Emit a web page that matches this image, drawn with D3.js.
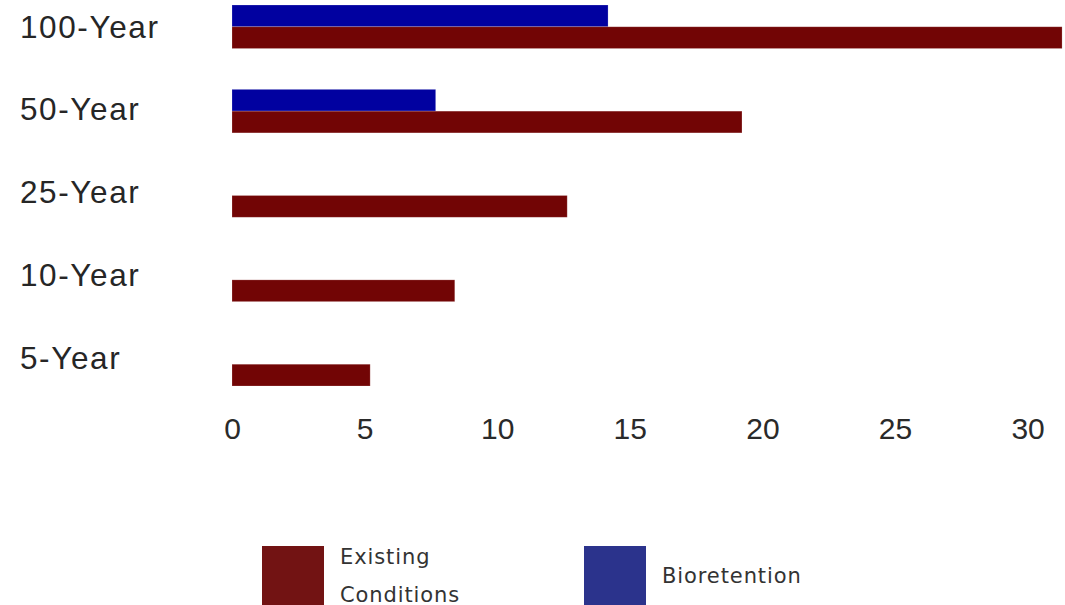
<!DOCTYPE html>
<html>
<head>
<meta charset="utf-8">
<script src="https://cdn.jsdelivr.net/npm/d3@7"></script>
<style>
  html, body { margin: 0; padding: 0; background: #ffffff; }
  svg { display: block; }
</style>
</head>
<body>
<div id="chart"></div>
<script>
// Storm events, top to bottom
const categories = ["100-Year", "50-Year", "25-Year", "10-Year", "5-Year"];
// Series values per storm event (null = not modelled)
const existingConditions = [31.3, 19.23, 12.64, 8.4, 5.21];
const bioretention = [14.18, 7.68, null, null, null];
const seriesNames = ["Existing\nConditions", "Bioretention"];
const xTicks = [0, 5, 10, 15, 20, 25, 30];

const W = 1065, H = 605;
const colors = { existing: "#720505", bio: "#0101a0" };
const legendColors = ["#721313", "#2b338c"];

const svg = d3.select("#chart").append("svg")
  .attr("width", W).attr("height", H);

const x = d3.scaleLinear().domain([0, 30]).range([232, 1027.6]);
const y = d3.scaleBand().domain(categories).range([5, 386])
  .paddingInner(0.484).paddingOuter(0);
const sub = d3.scaleBand().domain(["bio", "existing"]).range([0, y.bandwidth()]);
const labelY = d3.scalePoint().domain(categories).range([37.5, 369]);

const rows = categories.map((c, i) => ({
  cat: c, existing: existingConditions[i], bio: bioretention[i]
}));

// Bars
const g = svg.append("g");
["bio", "existing"].forEach(key => {
  g.selectAll("rect." + key)
    .data(rows.filter(d => d[key] != null))
    .join("rect")
    .attr("class", key)
    .attr("x", x(0))
    .attr("y", d => y(d.cat) + sub(key))
    .attr("width", d => x(d[key]) - x(0))
    .attr("height", sub.bandwidth())
    .attr("fill", colors[key])
    .attr("stroke", "#ffffff")
    .attr("stroke-opacity", 0.25)
    .attr("stroke-width", 0.8);
});

// Category labels
svg.append("g").selectAll("text")
  .data(categories)
  .join("text")
  .attr("x", 20)
  .attr("y", d => labelY(d))
  .attr("font-family", "'Liberation Sans', Arial, sans-serif")
  .attr("font-size", 31.5)
  .attr("letter-spacing", 1.6)
  .attr("fill", "#262626")
  .text(d => d);

// Value axis
const axis = svg.append("g")
  .attr("transform", "translate(0,410)")
  .call(d3.axisBottom(x).tickValues(xTicks).tickSize(0).tickPadding(0));
axis.select(".domain").remove();
axis.selectAll("text")
  .attr("dy", 0)
  .attr("y", 29)
  .attr("font-family", "'Liberation Sans', Arial, sans-serif")
  .attr("font-size", 30)
  .attr("fill", "#2a2a2a");

// Legend
const legend = svg.append("g");
const legendX = [262, 584];
seriesNames.forEach((name, i) => {
  legend.append("rect")
    .attr("x", legendX[i]).attr("y", 546)
    .attr("width", 62).attr("height", 59)
    .attr("fill", legendColors[i]);
  const lines = name.split("\n");
  const t = legend.append("text")
    .attr("font-family", "'DejaVu Sans', sans-serif")
    .attr("font-size", 21)
    .attr("letter-spacing", 0.9)
    .attr("fill", "#333333");
  lines.forEach((ln, j) => {
    t.append("tspan")
      .attr("x", legendX[i] + 78)
      .attr("y", lines.length === 1 ? 583 : 564 + j * 37.5)
      .text(ln);
  });
});
</script>
</body>
</html>
